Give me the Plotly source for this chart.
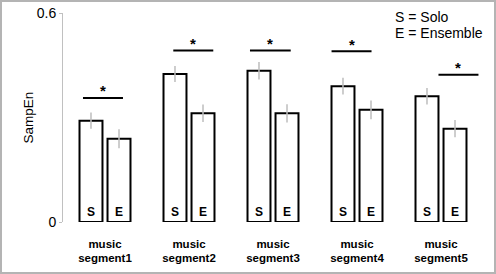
import plotly.graph_objects as go

# ---- data ----
segments = ["music<br>segment1", "music<br>segment2", "music<br>segment3",
            "music<br>segment4", "music<br>segment5"]
solo = [0.291, 0.425, 0.434, 0.390, 0.361]
solo_err = [0.023, 0.023, 0.025, 0.024, 0.024]
ensemble = [0.239, 0.312, 0.312, 0.322, 0.268]
ensemble_err = [0.027, 0.025, 0.026, 0.027, 0.025]
# significance bars: start / end (in category units) and height
sig_x0 = [-0.262, 0.813, 1.726, 2.697, 3.970]
sig_x1 = [0.214, 1.289, 2.211, 3.173, 4.446]
sig_y = [0.356, 0.492, 0.492, 0.490, 0.423]
y_ticks = [0, 0.6]
y_ticklabels = ["0", "0.6"]

FONT = "Liberation Sans, Arial, sans-serif"
xs = list(range(len(segments)))

fig = go.Figure()
fig.add_trace(go.Bar(
    x=xs, y=solo, name="Solo", text=["S"] * len(xs),
    textposition="inside", insidetextanchor="start",
    textfont=dict(family=FONT, size=12, color="black", weight="bold"),
    marker=dict(color="white", line=dict(color="black", width=2)),
    error_y=dict(type="data", array=solo_err, color="#bdbdbd", thickness=1.5, width=0),
    showlegend=False,
))
fig.add_trace(go.Bar(
    x=xs, y=ensemble, name="Ensemble", text=["E"] * len(xs),
    textposition="inside", insidetextanchor="start",
    textfont=dict(family=FONT, size=12, color="black", weight="bold"),
    marker=dict(color="white", line=dict(color="black", width=2)),
    error_y=dict(type="data", array=ensemble_err, color="#bdbdbd", thickness=1.5, width=0),
    showlegend=False,
))

# significance lines
lx, ly = [], []
for a, b, y in zip(sig_x0, sig_x1, sig_y):
    lx += [a, b, None]
    ly += [y, y, None]
fig.add_trace(go.Scatter(x=lx, y=ly, mode="lines",
                         line=dict(color="black", width=2),
                         showlegend=False, hoverinfo="skip"))

annotations = []
for a, b, y in zip(sig_x0, sig_x1, sig_y):
    annotations.append(dict(x=(a + b) / 2, y=y, xref="x", yref="y", text="*",
                            showarrow=False, yanchor="middle", yshift=7,
                            font=dict(family=FONT, size=15, color="black", weight="bold")))

annotations.append(dict(x=0.785, y=0.982, xref="paper", yref="paper", text="S = Solo",
                        showarrow=False, xanchor="left", yanchor="middle",
                        font=dict(family=FONT, size=14, color="black")))
annotations.append(dict(x=0.785, y=0.903, xref="paper", yref="paper", text="E = Ensemble",
                        showarrow=False, xanchor="left", yanchor="middle",
                        font=dict(family=FONT, size=14, color="black")))

fig.update_layout(
    width=496, height=274,
    margin=dict(l=63, r=13, t=13, b=52, autoexpand=False),
    paper_bgcolor="white", plot_bgcolor="white",
    barmode="group", bargap=0.333, bargroupgap=0.18,
    font=dict(family=FONT, color="black"),
    annotations=annotations,
    shapes=[dict(type="rect", xref="paper", yref="paper",
                 x0=-62 / 420, x1=432 / 420, y0=-51 / 209, y1=221 / 209,
                 line=dict(color="#b4b4b4", width=2), layer="below")],
    xaxis=dict(range=[-0.5, 4.5], tickvals=xs, ticktext=segments,
               automargin=False, ticklabelstandoff=13,
               showline=False, showgrid=False, zeroline=False, ticks="",
               tickfont=dict(family=FONT, size=11.5, color="black", weight="bold")),
    yaxis=dict(range=[0, 0.6], tickvals=y_ticks, ticktext=y_ticklabels,
               automargin=False,
               showline=True, linecolor="#c0c0c0", linewidth=1,
               ticks="outside", ticklen=3, tickcolor="#c0c0c0",
               showgrid=False, zeroline=False,
               tickfont=dict(family=FONT, size=14, color="black"),
               title=dict(text="SampEn", standoff=0,
                          font=dict(family=FONT, size=13.5, color="black"))),
)

fig.write_html("out.html", config={"displayModeBar": False},
               post_script="document.body.style.margin='0';document.body.style.overflow='hidden';")
